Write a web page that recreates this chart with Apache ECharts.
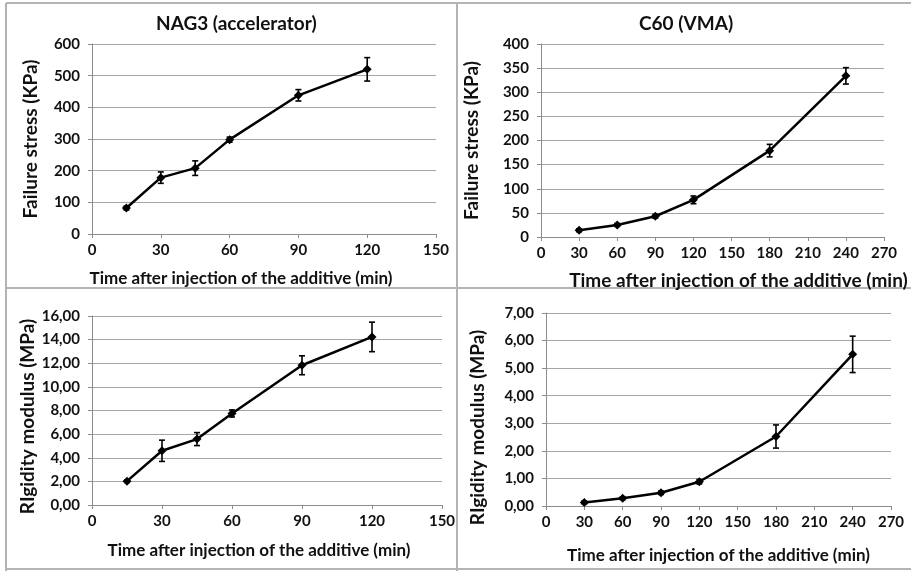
<!DOCTYPE html>
<html>
<head>
<meta charset="utf-8">
<script src="https://cdn.jsdelivr.net/npm/echarts@6/dist/echarts.min.js"></script>
<style>
  html, body { margin: 0; padding: 0; background: #fff; }
  #chart { width: 911px; height: 571px; }
</style>
</head>
<body>
<div id="chart"></div>
<script>
// NAG3 (accelerator)
var nagTime = [15, 30, 45, 60, 90, 120];
var nagStress = [82, 178, 208, 298, 438, 520];
var nagStressErr = [6, 18, 23, 8, 18, 37];
var nagRigid = [2.02, 4.59, 5.58, 7.75, 11.83, 14.23];
var nagRigidErr = [0.1, 0.9, 0.55, 0.3, 0.8, 1.25];

// C60 (VMA)
var c60Time = [30, 60, 90, 120, 180, 240];
var c60Stress = [14, 25, 43, 77, 179, 334];
var c60StressErr = [3, 3, 4, 8, 13, 17];
var c60Rigid = [0.13, 0.28, 0.48, 0.88, 2.52, 5.5];
var c60RigidErr = [0.05, 0.05, 0.06, 0.08, 0.42, 0.66];

var panelTitles = ['NAG3 (accelerator)', 'C60 (VMA)'];
var xName = 'Time after injection of the additive (min)';
var stressName = 'Failure stress (KPa)';
var rigidName = 'RIgidity modulus (MPa)';

var font = 'Lato';
var ink = '#111';

function pairs(xs, ys) {
  return xs.map(function (x, i) { return [x, ys[i]]; });
}
function errRows(xs, ys, es) {
  return xs.map(function (x, i) { return [x, ys[i] - es[i], ys[i] + es[i]]; });
}
function comma(v) { return v.toFixed(2).replace('.', ','); }

function xAxis(idx, max, interval, nameSize, gap, pad) {
  return {
    type: 'value', gridIndex: idx, min: 0, max: max, interval: interval,
    name: xName, nameLocation: 'middle', nameGap: gap,
    nameTextStyle: { fontFamily: font, fontWeight: 'bold', fontSize: nameSize, color: ink, padding: pad },
    axisLine: { show: true, lineStyle: { color: '#8c8c8c', width: 1 } },
    axisTick: { show: true, length: 4, lineStyle: { color: '#8c8c8c' } },
    axisLabel: { fontFamily: font, fontWeight: 'bold', fontSize: 15, color: ink, margin: 9 },
    splitLine: { show: false }
  };
}
function yAxis(idx, max, interval, name, fmt, gap, pad) {
  return {
    type: 'value', gridIndex: idx, min: 0, max: max, interval: interval,
    name: name, nameLocation: 'middle', nameGap: gap,
    nameTextStyle: { fontFamily: font, fontWeight: 'bold', fontSize: 19, color: ink, padding: pad },
    axisLine: { show: true, lineStyle: { color: '#8c8c8c', width: 1 } },
    axisTick: { show: true, length: 4, lineStyle: { color: '#8c8c8c' } },
    axisLabel: { fontFamily: font, fontWeight: 'bold', fontSize: 15, color: ink, margin: 12, formatter: fmt },
    splitLine: { show: true, lineStyle: { color: '#a6a6a6', width: 1 } }
  };
}
function lineSeries(idx, data) {
  return {
    type: 'line', xAxisIndex: idx, yAxisIndex: idx, data: data,
    symbol: 'diamond', symbolSize: 9, z: 3,
    itemStyle: { color: '#000' },
    lineStyle: { color: '#000', width: 2.5 }
  };
}
function errSeries(idx, data) {
  return {
    type: 'custom', xAxisIndex: idx, yAxisIndex: idx, data: data, z: 4,
    renderItem: function (params, api) {
      var lo = api.coord([api.value(0), api.value(1)]);
      var hi = api.coord([api.value(0), api.value(2)]);
      var c = 3;
      var st = { stroke: '#000', lineWidth: 1.6 };
      return {
        type: 'group',
        children: [
          { type: 'line', shape: { x1: lo[0], y1: lo[1], x2: hi[0], y2: hi[1] }, style: st },
          { type: 'line', shape: { x1: lo[0] - c, y1: lo[1], x2: lo[0] + c, y2: lo[1] }, style: st },
          { type: 'line', shape: { x1: hi[0] - c, y1: hi[1], x2: hi[0] + c, y2: hi[1] }, style: st }
        ]
      };
    },
    encode: { x: 0, y: [1, 2] }
  };
}

var chart = echarts.init(document.getElementById('chart'));
var frame = { stroke: '#b4b4b4', lineWidth: 2 };

var option = {
  backgroundColor: '#fff',
  animation: false,
  title: [
    { text: panelTitles[0], left: 151, top: 9,
      textStyle: { fontFamily: font, fontWeight: 'bold', fontSize: 19, color: ink } },
    { text: panelTitles[1], left: 634, top: 9,
      textStyle: { fontFamily: font, fontWeight: 'bold', fontSize: 19, color: ink } }
  ],
  grid: [
    { left: 92, top: 44, width: 344, height: 190 },
    { left: 541, top: 44, width: 343, height: 193 },
    { left: 92, top: 316, width: 350, height: 189 },
    { left: 546, top: 313, width: 345, height: 193 }
  ],
  xAxis: [
    xAxis(0, 150, 30, 17, 36, [0, 46, 0, 0]),
    xAxis(1, 270, 30, 19, 34, [0, 0, 0, 52]),
    xAxis(2, 150, 30, 17, 37, [0, 16, 0, 0]),
    xAxis(3, 270, 30, 17, 41, [0, 0, 0, 0])
  ],
  yAxis: [
    yAxis(0, 600, 100, stressName, null, 52, [0, 0, 0, 0]),
    yAxis(1, 400, 50, stressName, null, 60, [0, 0, 0, 0]),
    yAxis(2, 16, 2, rigidName, comma, 55, [0, 12, 0, 0]),
    yAxis(3, 7, 1, rigidName, comma, 59, [0, 36, 0, 0])
  ],
  series: [
    lineSeries(0, pairs(nagTime, nagStress)),
    errSeries(0, errRows(nagTime, nagStress, nagStressErr)),
    lineSeries(1, pairs(c60Time, c60Stress)),
    errSeries(1, errRows(c60Time, c60Stress, c60StressErr)),
    lineSeries(2, pairs(nagTime, nagRigid)),
    errSeries(2, errRows(nagTime, nagRigid, nagRigidErr)),
    lineSeries(3, pairs(c60Time, c60Rigid)),
    errSeries(3, errRows(c60Time, c60Rigid, c60RigidErr))
  ],
  graphic: [
    { type: 'line', shape: { x1: 6, y1: 3, x2: 911, y2: 3 }, style: frame, silent: true },
    { type: 'line', shape: { x1: 6, y1: 3, x2: 6, y2: 571 }, style: frame, silent: true },
    { type: 'line', shape: { x1: 457, y1: 3, x2: 457, y2: 571 }, style: frame, silent: true },
    { type: 'line', shape: { x1: 6, y1: 288, x2: 911, y2: 288 }, style: frame, silent: true },
    { type: 'line', shape: { x1: 6, y1: 569, x2: 911, y2: 569 }, style: frame, silent: true }
  ]
};

chart.setOption(option);
</script>
</body>
</html>
